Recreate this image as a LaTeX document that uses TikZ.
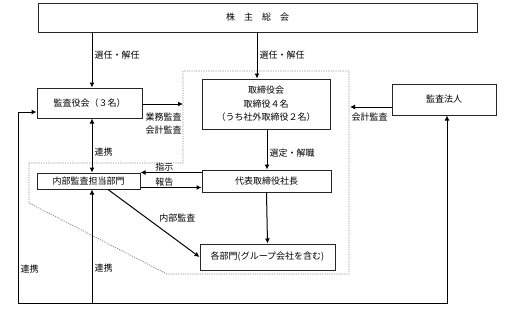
\documentclass[tikz,border=0pt]{standalone}
\usepackage{fontspec}
\newfontfamily\jpfont{Noto Sans CJK JP}
\usetikzlibrary{arrows.meta,positioning}

\begin{document}
\begin{tikzpicture}[
    x=1pt, y=-1pt,
    font=\jpfont\fontsize{9}{13.5}\selectfont,
    >={Latex[length=5pt,width=5pt]},
    line width=1pt,
    orgbox/.style={draw=black!85, inner sep=0pt, align=center},
    lbl/.style={font=\jpfont\fontsize{9}{13}\selectfont, inner sep=2pt},
    zone/.style={draw=black!45, line width=0.8pt, dash pattern=on 1.2pt off 1.2pt}
]
\useasboundingbox (0,0) rectangle (509,324);

% boxes
\node[orgbox, minimum width=439pt, minimum height=29pt] (gm) at (257.5,17.5) {株　主　総　会};
\node[orgbox, minimum width=105pt, minimum height=30pt] (kansa) at (89.5,103) {監査役会（３名）};
\node[orgbox, minimum width=128pt, minimum height=50pt] (board) at (266,104) {取締役会\\取締役４名\\（うち社外取締役２名）};
\node[orgbox, minimum width=104pt, minimum height=31pt] (houjin) at (444,99.5) {監査法人};
\node[orgbox, minimum width=103pt, minimum height=16pt] (naibu) at (88.5,181) {内部監査担当部門};
\node[orgbox, minimum width=129pt, minimum height=22pt] (ceo) at (266.5,181) {代表取締役社長};
\node[orgbox, minimum width=135pt, minimum height=26pt] (depts) at (267.5,257) {各部門(グループ会社を含む)};

% dotted area of the board
\draw[zone] (29,163) -- (183,163) -- (183,71) -- (349,71) -- (349,274) -- (167,274) -- (29,203) -- cycle;

\coordinate (kx) at (92,0);
\coordinate (bx) at (257,0);
\coordinate (edgeL) at (183,104);
\coordinate (edgeR) at (350,107);
\coordinate (bl) at (18,303);

\draw[->] (kx |- gm.south) -- node[lbl, pos=0.41, right] {選任・解任} (kx |- kansa.north);
\draw[->] (bx |- gm.south) -- node[lbl, pos=0.49, right] {選任・解任} (bx |- board.north);
\draw[->] (kansa.east |- edgeL) -- (edgeL) node[lbl, anchor=north east, align=right, inner sep=1pt, yshift=-7pt] {業務監査\\会計監査};
\draw[->] (houjin.west |- edgeR) -- (edgeR) node[lbl, anchor=north west, inner sep=1pt, yshift=-4pt] {会計監査};
\draw[<->] (kx |- kansa.south) -- node[lbl, pos=0.62, right] {連携} (kx |- naibu.north);
\draw[->] ([xshift=1pt]board.south) -- node[lbl, pos=0.59, right] {選定・解職} ([xshift=0.5pt]ceo.north);

\draw[->] ([yshift=-3pt]ceo.north west) -- node[lbl, pos=0.61, above, yshift=-1pt] {指示} ([yshift=-3pt]ceo.north west -| naibu.east);
\draw[->] ([yshift=2pt]naibu.south east) -- node[lbl, pos=0.39, above, yshift=-1pt] {報告} ([yshift=2pt]naibu.south east -| ceo.west);
\draw[->] (ceo.south) -- (depts.north);
\draw[->] ([xshift=19.5pt]naibu.south) -- node[lbl, pos=0.5, right, xshift=3pt, yshift=5pt] {内部監査} (depts.west);

% cooperation loop
\draw[->] (bl) |- node[lbl, pos=0.09, right] {連携} ([yshift=-9pt]kansa.west);
\draw[->] (bl) -| ([xshift=3pt]houjin.south);
\draw[->] (kx |- bl) -- node[lbl, pos=0.31, right] {連携} (kx |- naibu.south);
\end{tikzpicture}
\end{document}
